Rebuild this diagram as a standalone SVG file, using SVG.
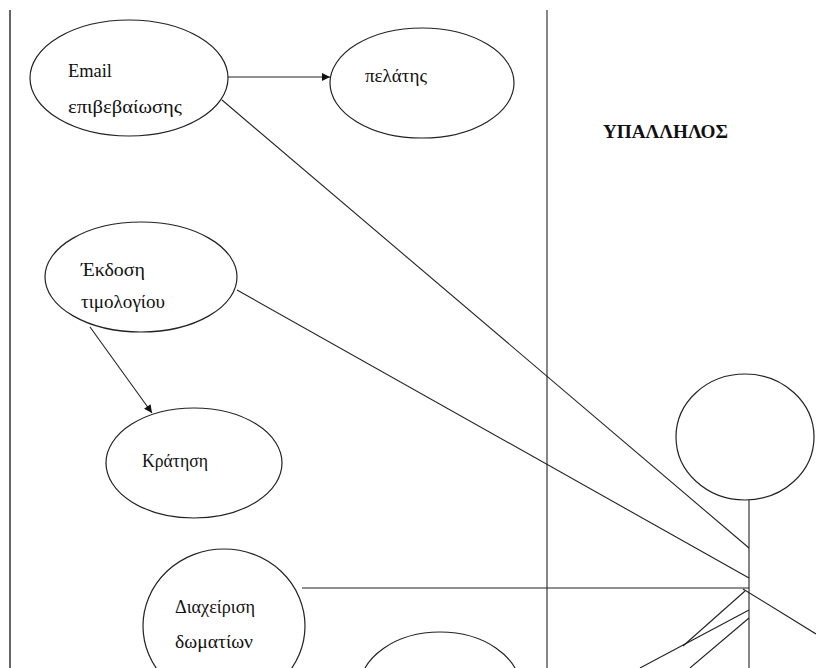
<svg xmlns="http://www.w3.org/2000/svg" width="816" height="668" viewBox="0 0 816 668">
<defs>
<style>
.n{fill:#fff;stroke:#222;stroke-width:1.2}
.t{font-family:"Liberation Serif","Times New Roman",serif;font-size:18px;fill:#111}
.tb{font-family:"Liberation Serif","Times New Roman",serif;font-size:18px;font-weight:bold;fill:#111}
.c{stroke:#222;stroke-width:1.1;fill:none}
.b{stroke:#333;stroke-width:1.5;fill:none}
</style>
<marker id="ah" viewBox="0 0 10 10" refX="10" refY="5" markerWidth="10" markerHeight="8" markerUnits="userSpaceOnUse" orient="auto">
<path d="M0,0 L10,5 L0,10 Z" fill="#111"/>
</marker>
</defs>
<rect width="816" height="668" fill="#fff"/>
<g id="borders">
<line class="b" x1="10" y1="10" x2="10" y2="668"/>
<line class="c" x1="547" y1="10" x2="547" y2="668"/>
</g>
<g id="connectors">
<line class="c" x1="228" y1="77" x2="330" y2="77" marker-end="url(#ah)"/>
<line class="c" x1="90" y1="327" x2="152" y2="413" marker-end="url(#ah)"/>
<line class="c" x1="222" y1="100" x2="749" y2="548"/>
<line class="c" x1="237" y1="290" x2="749" y2="578"/>
<line class="c" x1="302" y1="588" x2="749" y2="588"/>
<line class="c" x1="743" y1="589" x2="816" y2="634"/>
<line class="c" x1="745" y1="591" x2="683" y2="646"/>
<line class="c" x1="749" y1="610" x2="640" y2="668"/>
<line class="c" x1="749" y1="618" x2="690" y2="668"/>
</g>
<g id="email">
<ellipse class="n" cx="129" cy="78" rx="99" ry="58"/>
<text class="t" x="68" y="77" textLength="44" lengthAdjust="spacingAndGlyphs">Email</text>
<text class="t" x="68" y="113" textLength="114" lengthAdjust="spacingAndGlyphs">επιβεβαίωσης</text>
</g>
<g id="pelatis">
<ellipse class="n" cx="422" cy="83" rx="92" ry="55"/>
<text class="t" x="365" y="82" textLength="62" lengthAdjust="spacingAndGlyphs">πελάτης</text>
</g>
<g id="ekdosi">
<ellipse class="n" cx="141" cy="277" rx="96" ry="55"/>
<text class="t" x="81" y="276" textLength="64" lengthAdjust="spacingAndGlyphs">Έκδοση</text>
<text class="t" x="81" y="308" textLength="84" lengthAdjust="spacingAndGlyphs">τιμολογίου</text>
</g>
<g id="kratisi">
<ellipse class="n" cx="194" cy="463" rx="88" ry="55"/>
<text class="t" x="142" y="467" textLength="66" lengthAdjust="spacingAndGlyphs">Κράτηση</text>
</g>
<g id="diaxeirisi">
<ellipse class="n" cx="224" cy="626" rx="81" ry="77"/>
<text class="t" x="175" y="613" textLength="80" lengthAdjust="spacingAndGlyphs">Διαχείριση</text>
<text class="t" x="175" y="648" textLength="78" lengthAdjust="spacingAndGlyphs">δωματίων</text>
</g>
<g id="bottom-usecase">
<ellipse class="n" cx="440" cy="688" rx="80" ry="56"/>
</g>
<g id="ypallilos">
<text class="tb" x="603" y="138" textLength="125" lengthAdjust="spacingAndGlyphs">ΥΠΑΛΛΗΛΟΣ</text>
<ellipse class="n" cx="745" cy="437" rx="69" ry="63"/>
<line class="c" x1="749" y1="500" x2="749" y2="668"/>
</g>
</svg>
